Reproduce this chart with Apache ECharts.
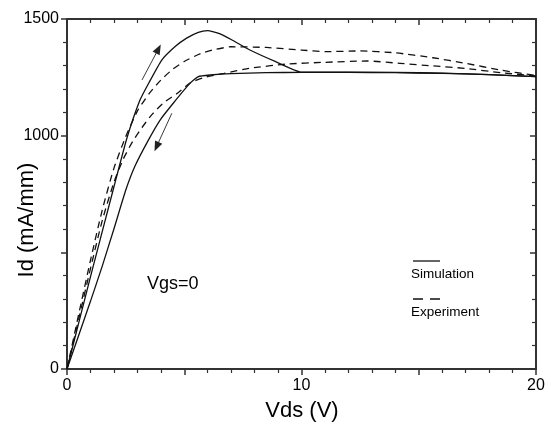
<!DOCTYPE html>
<html><head><meta charset="utf-8">
<script src="https://cdn.jsdelivr.net/npm/echarts@6/dist/echarts.min.js"></script>
<style>html,body{margin:0;padding:0;background:#fff}#c{width:551px;height:426px}</style>
</head><body><div id="c"></div>
<script>
// Simulation, up sweep
const simUpV = [0, 1, 2, 2.55, 3.1, 3.5, 4.04, 4.6, 5.1, 5.6, 6.0, 6.5, 7.0, 7.8, 8.9, 10, 12, 14, 16, 18, 20];
const simUpI = [0, 395, 780, 988, 1150, 1228, 1324, 1381, 1418, 1443, 1450, 1437, 1412, 1367, 1317, 1272, 1272, 1271, 1268, 1262, 1253];
// Simulation, down sweep
const simDownV = [20, 18, 16, 14, 12, 10, 8.5, 7, 6.1, 5.6, 5.24, 4.53, 3.97, 3.47, 2.9, 2.5, 2, 1.5, 1, 0.5, 0];
const simDownI = [1253, 1262, 1267, 1270, 1271, 1271, 1270, 1266, 1260, 1253, 1224, 1139, 1067, 981, 870, 765, 600, 440, 290, 145, 0];
// Experiment, up sweep
const expUpV = [0, 0.5, 1, 1.5, 2, 2.5, 3, 3.5, 4, 4.5, 5, 5.7, 6.3, 7, 8.5, 10, 11, 12.5, 14, 15.6, 17, 18.5, 20];
const expUpI = [0, 235, 465, 680, 860, 995, 1105, 1180, 1238, 1284, 1318, 1352, 1369, 1381, 1378, 1367, 1360, 1363, 1355, 1334, 1310, 1281, 1258];
// Experiment, down sweep
const expDownV = [20, 18.5, 17, 15.6, 14.2, 12.8, 10.9, 9.4, 7.8, 6.7, 5.8, 5.25, 4.75, 4.1, 3.6, 3.2, 2.8, 2.4, 2, 1.5, 1, 0.5, 0];
const expDownI = [1256, 1270, 1288, 1299, 1310, 1320, 1314, 1307, 1289, 1267, 1248, 1226, 1185, 1139, 1088, 1035, 975, 900, 800, 635, 430, 215, 0];
// Sweep-direction arrows [fromV, fromI, toV, toI]
const arrowUp = [3.2, 1239, 3.9, 1372];
const arrowDown = [4.47, 1096, 3.82, 953];
// Tick labels shown
const xLabels = [0, 10, 20];
const yLabels = [0, 1000, 1500];

const zip = (a, b) => a.map((v, i) => [v, b[i]]);
const FONT = 'Liberation Sans, Arial, sans-serif';
const AX = '#333';

const chart = echarts.init(document.getElementById('c'), null, {renderer: 'canvas'});

function xAx(pos) {
  const bottom = pos === 'bottom';
  return {
    type: 'value', position: pos, min: 0, max: 20, interval: 5,
    axisLine: {show: true, onZero: false, lineStyle: {color: AX, width: 2}},
    axisTick: {show: true, inside: !bottom, length: 6, lineStyle: {color: AX, width: 1.5}},
    minorTick: {show: true, splitNumber: 5, length: 4, lineStyle: {color: AX, width: 1.2}},
    axisLabel: {show: bottom, margin: 9, fontSize: 16, color: '#000', fontFamily: FONT,
      formatter: v => xLabels.indexOf(v) >= 0 ? String(v) : ''},
    splitLine: {show: false}, minorSplitLine: {show: false}
  };
}
function yAx(pos) {
  const left = pos === 'left';
  return {
    type: 'value', position: pos, min: 0, max: 1500, interval: 500,
    axisLine: {show: true, onZero: false, lineStyle: {color: AX, width: 2}},
    axisTick: {show: true, inside: !left, length: 6, lineStyle: {color: AX, width: 1.5}},
    minorTick: {show: true, splitNumber: 5, length: 4, lineStyle: {color: AX, width: 1.2}},
    axisLabel: {show: left, margin: 8, fontSize: 16, color: '#000', fontFamily: FONT,
      formatter: v => yLabels.indexOf(v) >= 0 ? String(v) : ''},
    splitLine: {show: false}, minorSplitLine: {show: false}
  };
}

const solid = {color: '#111', width: 1.3, type: 'solid'};
const dashed = {color: '#111', width: 1.3, type: [7, 5]};

function arrowLine(a) {
  return [{coord: [a[0], a[1]]}, {coord: [a[2], a[3]]}];
}

chart.setOption({
  animation: false,
  backgroundColor: '#fff',
  grid: {left: 67, right: 15, top: 19, bottom: 57, containLabel: false},
  xAxis: [xAx('bottom'), xAx('top')],
  yAxis: [yAx('left'), yAx('right')],
  series: [
    {type: 'line', name: 'Simulation', data: zip(simUpV, simUpI), showSymbol: false, smooth: 0.15,
     lineStyle: solid, silent: true,
     markLine: {silent: true, symbol: ['none', 'triangle'], symbolSize: [8, 10], label: {show: false},
       lineStyle: {color: '#222', width: 0.9, type: 'solid'}, emphasis: {disabled: true},
       data: [arrowLine(arrowUp), arrowLine(arrowDown)]}},
    {type: 'line', name: 'Simulation', data: zip(simDownV, simDownI), showSymbol: false, smooth: 0.15,
     lineStyle: solid, silent: true},
    {type: 'line', name: 'Experiment', data: zip(expUpV, expUpI), showSymbol: false, smooth: 0.2,
     lineStyle: dashed, silent: true},
    {type: 'line', name: 'Experiment', data: zip(expDownV, expDownI), showSymbol: false, smooth: 0.2,
     lineStyle: dashed, silent: true}
  ],
  graphic: [
    {type: 'text', x: 27, y: 220, rotation: Math.PI / 2,
     style: {text: 'Id (mA/mm)', fill: '#000', font: '22px ' + FONT, textAlign: 'center', textVerticalAlign: 'middle'}},
    {type: 'text', x: 302, y: 411,
     style: {text: 'Vds (V)', fill: '#000', font: '22px ' + FONT, textAlign: 'center', textVerticalAlign: 'middle'}},
    {type: 'text', x: 147, y: 284,
     style: {text: 'Vgs=0', fill: '#000', font: '18px ' + FONT, textAlign: 'left', textVerticalAlign: 'middle'}},
    {type: 'line', shape: {x1: 413, y1: 261, x2: 440, y2: 261}, style: {stroke: '#111', lineWidth: 1.3}},
    {type: 'text', x: 411, y: 274,
     style: {text: 'Simulation', fill: '#000', font: '13.5px ' + FONT, textAlign: 'left', textVerticalAlign: 'middle'}},
    {type: 'line', shape: {x1: 413, y1: 299, x2: 440, y2: 299}, style: {stroke: '#111', lineWidth: 1.6, lineDash: [10, 7]}},
    {type: 'text', x: 411, y: 312,
     style: {text: 'Experiment', fill: '#000', font: '13.5px ' + FONT, textAlign: 'left', textVerticalAlign: 'middle'}}
  ]
});
</script></body></html>
